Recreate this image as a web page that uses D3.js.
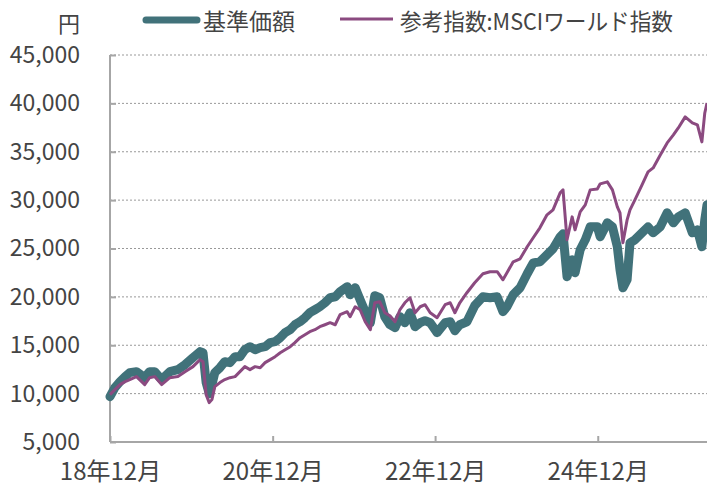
<!DOCTYPE html>
<html>
<head>
<meta charset="utf-8">
<script src="https://cdn.jsdelivr.net/npm/d3@7"></script>
<style>
  body { margin: 0; background: #fff; }
  svg text { font-family: "Noto Sans CJK JP", "Noto Sans", sans-serif; fill: #444; }
  .axis path, .axis line { stroke: #a6a6a6; stroke-width: 2; }
</style>
</head>
<body>
<svg id="chart" width="707" height="486"></svg>
<script>
// data
var dates = [
  "2018-12-01","2018-12-23","2019-01-15","2019-02-07","2019-02-28","2019-03-30","2019-05-06","2019-05-28",
  "2019-06-20","2019-07-21","2019-08-27","2019-10-02","2019-11-03","2019-12-09","2020-01-10","2020-01-23",
  "2020-02-06","2020-02-20","2020-03-03","2020-03-16","2020-04-08","2020-04-30","2020-05-23","2020-06-15",
  "2020-07-07","2020-07-29","2020-08-21","2020-09-13","2020-10-06","2020-10-28","2020-11-20","2020-12-12",
  "2021-01-04","2021-01-26","2021-02-18","2021-03-11","2021-04-03","2021-04-25","2021-05-17","2021-06-09",
  "2021-07-01","2021-07-24","2021-08-16","2021-09-08","2021-09-30","2021-11-01","2021-11-14","2021-12-07",
  "2021-12-29","2022-01-21","2022-02-13","2022-03-05","2022-03-27","2022-04-19","2022-05-12","2022-06-04",
  "2022-06-26","2022-07-18","2022-08-10","2022-09-02","2022-09-25","2022-10-17","2022-11-09","2022-12-10",
  "2023-01-15","2023-02-07","2023-02-28","2023-03-22","2023-04-23","2023-05-28","2023-07-04","2023-08-05",
  "2023-09-06","2023-10-02","2023-10-20","2023-11-17","2023-12-18","2024-01-19","2024-02-15","2024-03-16",
  "2024-04-17","2024-05-14","2024-06-15","2024-06-28","2024-07-16","2024-08-08","2024-08-21","2024-09-13",
  "2024-10-06","2024-10-28","2024-11-29","2024-12-12","2025-01-13","2025-02-05","2025-02-27","2025-03-11",
  "2025-03-24","2025-04-12","2025-04-25","2025-05-17","2025-06-18","2025-07-15","2025-08-07","2025-09-08",
  "2025-10-09","2025-11-06","2025-11-28","2025-12-29","2026-01-30","2026-02-22","2026-03-14","2026-03-27",
  "2026-04-06"
];

// 基準価額
var navValues = [
  9690,10620,11240,11760,12170,12270,11650,12270,
  12270,11450,12270,12480,12990,13720,14340,14230,
  11140,10000,10930,12170,12680,13300,13200,13820,
  13820,14540,14850,14540,14750,14850,15270,15370,
  15780,16300,16610,17120,17430,17850,18360,18670,
  18980,19390,19910,20010,20530,21050,20220,20940,
  19700,18470,17330,20120,19910,17950,17120,16810,
  17950,17330,18360,16920,17330,17540,17330,16300,
  17330,17430,16500,17120,17430,19090,20010,19910,
  20010,18470,18980,20220,20940,22390,23520,23630,
  24350,24970,26210,26520,22080,23830,22490,24870,
  25900,27240,27240,26210,27650,27240,25180,22800,
  20940,21770,25590,25900,26620,27240,26620,27240,
  28690,27650,28270,28690,26620,26930,25180,27960,
  29510
];

// 参考指数:MSCIワールド指数
var indexValues = [
  9900,10410,10930,11240,11450,11760,10930,11650,
  11760,10930,11650,11760,12270,12790,13510,13300,
  9900,9070,9380,10720,11140,11450,11650,11760,
  12270,12790,12480,12790,12680,13200,13510,13820,
  14230,14540,14850,15270,15780,16090,16400,16610,
  16920,17120,17330,17120,18160,18470,17950,18980,
  18670,17430,16610,19390,19500,18360,18050,17430,
  18670,19390,19910,18360,18980,19190,18360,17850,
  19190,19390,18360,19390,20430,21460,22390,22600,
  22600,21770,22490,23630,23940,25180,26110,27140,
  28480,29000,30750,31060,25900,28270,26930,28790,
  29510,31060,31160,31680,31890,31060,29310,28690,
  25590,27960,29000,30030,31580,32920,33330,34670,
  35910,36740,37460,38600,37980,37770,36020,39010,
  40040
];

var yTicks = [5000, 10000, 15000, 20000, 25000, 30000, 35000, 40000, 45000];
var xTickDates = ["2018-12-01", "2020-12-01", "2022-12-01", "2024-12-01"];
var xTickLabels = ["18年12月", "20年12月", "22年12月", "24年12月"];
var seriesNames = ["基準価額", "参考指数:MSCIワールド指数"];
var unitLabel = "円";

(function() {
  var parse = d3.timeParse("%Y-%m-%d");

  var mLeft = 110, mRight = 707, mTop = 55, mBottom = 442;
  var svg = d3.select("#chart");

  var x = d3.scaleTime()
    .domain([parse("2018-12-01"), parse("2026-04-06")])
    .range([mLeft, mRight]);
  var y = d3.scaleLinear().domain([5000, 45000]).range([mBottom, mTop]);

  // dotted gridlines
  svg.append("g").selectAll("line")
    .data(yTicks.slice(1))
    .enter().append("line")
    .attr("x1", mLeft).attr("x2", mRight)
    .attr("y1", function(d) { return y(d); })
    .attr("y2", function(d) { return y(d); })
    .attr("stroke", "#999")
    .attr("stroke-width", 1)
    .attr("stroke-dasharray", "2,2");

  var yAxis = d3.axisLeft(y).tickValues(yTicks).tickSize(-6).tickPadding(30)
    .tickFormat(d3.format(","));
  var gy = svg.append("g").attr("class", "axis")
    .attr("transform", "translate(" + mLeft + ",0)")
    .call(yAxis);
  gy.select(".domain").attr("d", "M0," + mTop + "V" + mBottom);
  gy.selectAll("text").style("font-size", "23px");

  var xAxis = d3.axisBottom(x).tickValues(xTickDates.map(parse)).tickSize(-6).tickPadding(21)
    .tickFormat(function(d, i) { return xTickLabels[i]; });
  var gx = svg.append("g").attr("class", "axis")
    .attr("transform", "translate(0," + mBottom + ")")
    .call(xAxis);
  gx.select(".domain").attr("d", "M" + mLeft + ",0H" + mRight);
  gx.selectAll("text").style("font-size", "24px");

  var navData = dates.map(function(d, i) { return {date: parse(d), v: navValues[i]}; });
  var idxData = dates.map(function(d, i) { return {date: parse(d), v: indexValues[i]}; });

  var line = d3.line()
    .x(function(d) { return x(d.date); })
    .y(function(d) { return y(d.v); });

  svg.append("path")
    .attr("d", line(navData))
    .attr("fill", "none")
    .attr("stroke", "#41727a")
    .attr("stroke-width", 9)
    .attr("stroke-linejoin", "round")
    .attr("stroke-linecap", "round");

  svg.append("path")
    .attr("d", line(idxData))
    .attr("fill", "none")
    .attr("stroke", "#8b4a80")
    .attr("stroke-width", 3)
    .attr("stroke-linejoin", "round");

  // unit
  svg.append("text")
    .attr("x", 80).attr("y", 22)
    .attr("text-anchor", "end")
    .attr("dominant-baseline", "central")
    .style("font-size", "22px")
    .text(unitLabel);

  // legend
  var legend = svg.append("g");
  legend.append("line")
    .attr("x1", 146).attr("x2", 197).attr("y1", 20).attr("y2", 20)
    .attr("stroke", "#41727a").attr("stroke-width", 7).attr("stroke-linecap", "round");
  legend.append("text")
    .attr("x", 203).attr("y", 20)
    .attr("dominant-baseline", "central")
    .style("font-size", "23px")
    .text(seriesNames[0]);
  legend.append("line")
    .attr("x1", 340).attr("x2", 393).attr("y1", 19).attr("y2", 19)
    .attr("stroke", "#8b4a80").attr("stroke-width", 3);
  legend.append("text")
    .attr("x", 400).attr("y", 20)
    .attr("dominant-baseline", "central")
    .attr("textLength", 273)
    .attr("lengthAdjust", "spacingAndGlyphs")
    .style("font-size", "23px")
    .text(seriesNames[1]);
})();
</script>
</body>
</html>
